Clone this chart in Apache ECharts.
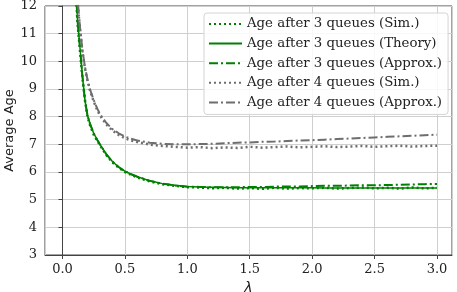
<!DOCTYPE html>
<html lang="en">
<head>
    <meta charset="UTF-8">
    <title>Average Age vs lambda</title>
    <style>
        body { margin: 0; padding: 0; background: #fff; }
        #chart { width: 457px; height: 292px; }
    </style>
    <script src="https://cdn.jsdelivr.net/npm/echarts@6/dist/echarts.min.js"></script>
</head>
<body>
<div id="chart"></div>
<script>
    // arrival rates (x axis)
    const lambdas = [0.1, 0.12, 0.14, 0.16, 0.18, 0.2, 0.22, 0.25, 0.28, 0.3, 0.35, 0.4, 0.45, 0.5, 0.55, 0.6,
        0.7, 0.8, 0.9, 1.0, 1.1, 1.2, 1.3, 1.4, 1.5, 1.6, 1.7, 1.8, 1.9, 2.0,
        2.1, 2.2, 2.3, 2.4, 2.5, 2.6, 2.7, 2.8, 2.9, 3.0];

    const sim3 = [13.3, 11.4, 10.4, 9.4, 8.6, 8.0, 7.7, 7.35, 7.12, 6.97, 6.62, 6.35, 6.16, 6.0, 5.9, 5.8,
        5.66, 5.56, 5.5, 5.45, 5.44, 5.41, 5.43, 5.4, 5.42, 5.39, 5.43, 5.4, 5.42, 5.41,
        5.43, 5.4, 5.42, 5.44, 5.41, 5.43, 5.4, 5.44, 5.41, 5.43];
    const theory3 = [13.3, 11.5, 10.5, 9.45, 8.6, 8.05, 7.75, 7.4, 7.15, 7.0, 6.65, 6.38, 6.18, 6.03, 5.92, 5.83,
        5.68, 5.58, 5.52, 5.48, 5.46, 5.45, 5.44, 5.43, 5.43, 5.43, 5.43, 5.43, 5.43, 5.43,
        5.42, 5.42, 5.42, 5.42, 5.42, 5.42, 5.42, 5.42, 5.42, 5.42];
    const approx3 = [13.3, 11.5, 10.5, 9.45, 8.6, 8.05, 7.75, 7.4, 7.15, 7.0, 6.65, 6.38, 6.18, 6.03, 5.92, 5.83,
        5.68, 5.58, 5.51, 5.47, 5.46, 5.45, 5.45, 5.45, 5.46, 5.46, 5.47, 5.48, 5.48, 5.49,
        5.5, 5.5, 5.51, 5.52, 5.52, 5.53, 5.54, 5.55, 5.56, 5.57];
    const sim4 = [14.4, 12.2, 11.2, 10.35, 9.75, 9.3, 8.95, 8.55, 8.22, 8.05, 7.72, 7.5, 7.34, 7.22, 7.14, 7.08,
        6.99, 6.94, 6.91, 6.88, 6.9, 6.86, 6.89, 6.87, 6.91, 6.88, 6.9, 6.92, 6.89, 6.91,
        6.93, 6.9, 6.92, 6.94, 6.91, 6.93, 6.95, 6.92, 6.94, 6.95];
    const approx4 = [14.5, 12.3, 11.25, 10.4, 9.8, 9.35, 9.0, 8.6, 8.28, 8.1, 7.78, 7.55, 7.4, 7.28, 7.2, 7.14,
        7.06, 7.02, 7.0, 7.0, 7.01, 7.02, 7.04, 7.06, 7.07, 7.09, 7.1, 7.12, 7.14, 7.15,
        7.17, 7.19, 7.21, 7.23, 7.25, 7.27, 7.29, 7.31, 7.33, 7.35];

    const green = '#008000';
    const gray = '#6e6e6e';
    const serif = 'DejaVu Serif';

    function pairs(ys) {
        return lambdas.map((x, i) => [x, ys[i]]);
    }

    function lineSeries(name, ys, color, type, width) {
        return {
            name: name,
            type: 'line',
            data: pairs(ys),
            symbol: 'none',
            clip: true,
            lineStyle: { color: color, type: type, width: width },
            itemStyle: { color: color }
        };
    }

    const chart = echarts.init(document.getElementById('chart'), null, { renderer: 'canvas' });
    chart.setOption({
        animation: false,
        grid: {
            left: 45, right: 5, top: 6, bottom: 37,
            outerBoundsMode: 'none',
            show: true, borderColor: '#444', borderWidth: 1
        },
        legend: {
            orient: 'vertical',
            left: 204,
            top: 13,
            padding: [4.5, 6, 5.5, 4],
            itemGap: 6.6,
            itemWidth: 33,
            itemHeight: 13,
            backgroundColor: 'rgba(255,255,255,0.85)',
            borderColor: '#d4d4d4',
            borderWidth: 1,
            borderRadius: 3,
            itemStyle: { opacity: 0 },
            textStyle: { fontFamily: serif, fontSize: 13.3, color: '#222' }
        },
        xAxis: {
            type: 'value',
            min: -0.14,
            max: 3.12,
            splitNumber: 7,
            name: 'λ',
            nameLocation: 'middle',
            nameGap: 19,
            nameTextStyle: { fontFamily: 'DejaVu Sans', fontStyle: 'italic', fontSize: 14, color: '#222' },
            axisLine: { show: true, lineStyle: { color: '#444' } },
            axisTick: { show: true, length: 4, lineStyle: { color: '#444' } },
            axisLabel: {
                fontFamily: serif, fontSize: 13, color: '#222', margin: 8,
                showMinLabel: false, showMaxLabel: false,
                formatter: v => v.toFixed(1)
            },
            splitLine: { show: true, lineStyle: { color: '#cfcfcf', width: 1 } }
        },
        yAxis: {
            type: 'value',
            min: 3,
            max: 12,
            interval: 1,
            name: 'Average Age',
            nameLocation: 'middle',
            nameGap: 29,
            nameMoveOverlap: false,
            nameTextStyle: { fontFamily: 'DejaVu Sans', fontSize: 13, color: '#222' },
            axisLine: { show: true, lineStyle: { color: '#444' } },
            axisTick: { show: true, length: 4, lineStyle: { color: '#444' } },
            axisLabel: { fontFamily: serif, fontSize: 13, color: '#222', margin: 8 },
            splitLine: { show: true, lineStyle: { color: '#cfcfcf', width: 1 } }
        },
        series: [
            lineSeries('Age after 3 queues (Sim.)', sim3, green, [2, 3], 2.5),
            lineSeries('Age after 3 queues (Theory)', theory3, green, 'solid', 1.5),
            lineSeries('Age after 3 queues (Approx.)', approx3, green, [9, 3, 2, 3], 2),
            lineSeries('Age after 4 queues (Sim.)', sim4, gray, [2, 3], 2.5),
            lineSeries('Age after 4 queues (Approx.)', approx4, gray, [9, 3, 2, 3], 2)
        ]
    });
</script>
</body>
</html>
